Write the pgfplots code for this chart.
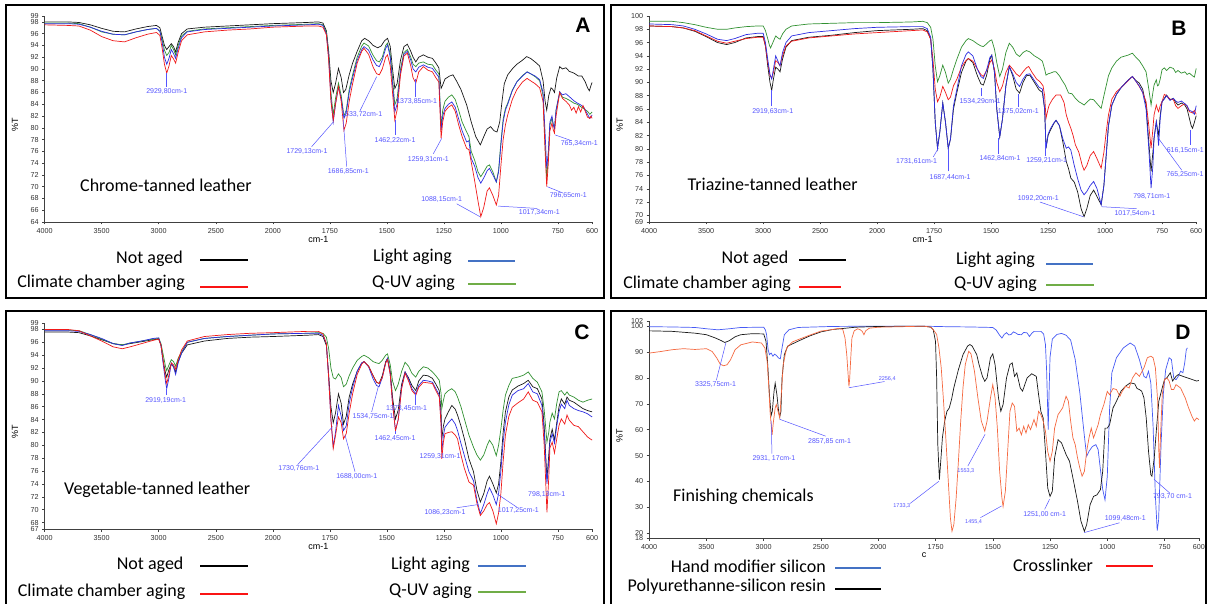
\documentclass[border=0pt]{standalone}
\usepackage{pgfplots}
\pgfplotsset{compat=1.18}
\usepackage{fontspec}
\setmainfont{Liberation Sans}
\newfontfamily\calibri{Carlito}
\definecolor{cblk}{RGB}{25,25,25}
\definecolor{cblu}{RGB}{45,45,225}
\definecolor{cred}{RGB}{240,25,25}
\definecolor{cgrn}{RGB}{50,145,50}
\definecolor{dblu}{RGB}{70,90,245}
\definecolor{dorg}{RGB}{245,105,65}
\definecolor{annc}{RGB}{85,85,255}
\definecolor{lblu}{RGB}{68,114,196}
\definecolor{lgrn}{RGB}{112,173,71}
\definecolor{lred}{RGB}{250,20,20}
\pgfplotsset{
  /pgfplots/table/ftx/.style={x expr={4000-\thisrow{w}+max(0,2000-\thisrow{w})}, y=t, row sep=\\},
  ftir/.style={
    scale only axis, anchor=south west, clip=false,
    axis lines*=left, axis line style={black!75, line width=0.6pt},
    tick align=outside, major tick length=2.5pt, tick style={black!75, line width=0.5pt},
    xmin=0, xmax=4800,
    xtick={0,500,1000,1500,2000,2500,3000,3500,4000,4500,4800},
    xticklabels={4000,3500,3000,2500,2000,1750,1500,1250,1000,750,600},
    ticklabel style={font=\fontsize{7.2}{8}\selectfont, text=black!80},
    /pgf/number format/assume math mode=true,
    xlabel style={font=\fontsize{9}{10}\selectfont, at={(axis description cs:0.5,0)}, anchor=center, yshift=-17pt},
    ylabel style={font=\fontsize{9}{10}\selectfont, at={(axis description cs:-0.054,0.47)}, anchor=center},
    ylabel={\%T},
    every axis plot/.append style={line width=0.7pt},
  }
}
\tikzset{
  an/.style={font=\fontsize{7}{8}\selectfont, text=annc, inner sep=0pt},
  ans/.style={font=\fontsize{5.5}{6}\selectfont, text=annc, inner sep=0pt},
  al/.style={draw=annc, line width=0.5pt},
  leg/.style={font=\calibri\fontsize{18}{20}\selectfont, anchor=east, inner sep=0pt},
  lab/.style={font=\calibri\fontsize{18}{20}\selectfont, anchor=west, inner sep=0pt},
  let/.style={font=\fontsize{21}{24}\selectfont\bfseries, inner sep=0pt},
}
\begin{document}
\begin{tikzpicture}
\useasboundingbox (0,0) rectangle (1207pt,603pt);
\fill[white] (0,0) rectangle (1207pt,603pt);
% frames
\draw[line width=1.4pt] (6pt,598pt) rectangle (604pt,305pt);
\draw[line width=1.4pt] (611pt,598pt) rectangle (1206pt,305pt);
\draw[line width=1.4pt] (6pt,292pt) rectangle (604pt,-8pt);
\draw[line width=1.4pt] (611pt,292pt) rectangle (1206pt,-8pt);

% ================= A =================
\begin{axis}[ftir, at={(44.7pt,381pt)}, width=547.4pt, height=206pt,
  ymin=64, ymax=99, ytick={64,66,...,98,99}, xlabel={cm-1}]
\addplot[cblk] table[ftx]{w t\\ 4000 98.0\\ 3800 98.0\\ 3700 97.9\\ 3600 97.5\\ 3500 96.9\\ 3400 96.4\\ 3300 96.3\\ 3200 96.8\\ 3100 97.2\\ 3020 97.4\\ 2990 97.0\\ 2970 95.5\\ 2950 94.0\\ 2930 93.3\\ 2910 93.8\\ 2890 94.3\\ 2870 93.8\\ 2852 92.9\\ 2830 94.5\\ 2800 96.0\\ 2750 96.8\\ 2600 97.1\\ 2400 97.3\\ 2200 97.5\\ 2000 97.7\\ 1850 97.9\\ 1800 98.0\\ 1780 97.8\\ 1765 96.5\\ 1755 93.0\\ 1745 88.0\\ 1735 86.0\\ 1725 87.5\\ 1712 90.1\\ 1700 88.5\\ 1690 86.0\\ 1680 86.5\\ 1665 89.0\\ 1650 91.0\\ 1630 93.0\\ 1610 94.8\\ 1597 95.2\\ 1580 94.8\\ 1560 94.0\\ 1540 93.6\\ 1525 93.9\\ 1510 94.8\\ 1497 95.2\\ 1485 93.8\\ 1475 90.0\\ 1465 86.7\\ 1455 87.5\\ 1440 91.5\\ 1425 93.8\\ 1410 94.2\\ 1395 93.0\\ 1385 92.0\\ 1373 91.2\\ 1360 92.0\\ 1340 92.4\\ 1320 92.0\\ 1300 91.8\\ 1285 91.0\\ 1272 90.2\\ 1262 86.7\\ 1255 87.3\\ 1245 88.3\\ 1225 88.8\\ 1210 89.0\\ 1195 88.0\\ 1175 86.5\\ 1150 83.9\\ 1130 81.0\\ 1110 78.5\\ 1090 77.1\\ 1075 78.5\\ 1060 79.8\\ 1045 80.2\\ 1030 79.5\\ 1017 79.3\\ 1005 81.0\\ 995 84.5\\ 985 87.5\\ 970 89.0\\ 950 90.0\\ 930 90.8\\ 905 91.5\\ 887 92.1\\ 870 91.8\\ 850 91.2\\ 830 90.5\\ 815 88.0\\ 806 84.5\\ 799 83.0\\ 790 85.5\\ 780 86.8\\ 772 86.5\\ 765 86.0\\ 755 88.5\\ 742 90.4\\ 730 90.0\\ 715 90.2\\ 700 89.6\\ 680 89.3\\ 660 88.8\\ 645 88.8\\ 630 87.8\\ 620 86.8\\ 612 86.3\\ 605 87.2\\ 600 87.7\\};
\addplot[cgrn] table[ftx]{w t\\ 4000 97.8\\ 3800 97.8\\ 3700 97.7\\ 3600 97.1\\ 3500 96.3\\ 3400 95.9\\ 3300 95.8\\ 3200 96.3\\ 3100 96.7\\ 3020 96.9\\ 2990 96.4\\ 2970 95.0\\ 2950 93.2\\ 2930 92.3\\ 2910 92.8\\ 2890 94.0\\ 2870 93.3\\ 2852 92.4\\ 2830 94.0\\ 2800 95.6\\ 2750 96.4\\ 2600 96.8\\ 2400 97.0\\ 2200 97.2\\ 2000 97.4\\ 1850 97.6\\ 1800 97.7\\ 1780 97.5\\ 1765 96.3\\ 1755 92.5\\ 1745 86.0\\ 1735 82.2\\ 1725 85.0\\ 1712 87.6\\ 1700 85.5\\ 1688 82.0\\ 1678 83.0\\ 1665 86.5\\ 1650 89.0\\ 1630 92.0\\ 1610 93.9\\ 1600 94.4\\ 1580 93.9\\ 1560 92.3\\ 1545 91.4\\ 1533 91.2\\ 1520 92.0\\ 1505 94.0\\ 1497 94.4\\ 1485 92.5\\ 1475 88.5\\ 1465 83.9\\ 1455 85.0\\ 1440 90.0\\ 1425 92.8\\ 1410 93.3\\ 1395 92.0\\ 1385 90.8\\ 1373 90.4\\ 1360 91.0\\ 1340 91.2\\ 1320 90.8\\ 1300 90.7\\ 1285 89.8\\ 1272 89.2\\ 1262 80.2\\ 1255 83.0\\ 1245 84.5\\ 1230 85.2\\ 1215 85.6\\ 1200 84.8\\ 1185 83.0\\ 1170 81.0\\ 1150 79.3\\ 1140 78.5\\ 1130 76.0\\ 1115 74.5\\ 1100 72.5\\ 1088 71.7\\ 1075 72.5\\ 1060 73.5\\ 1050 73.7\\ 1035 72.5\\ 1020 70.8\\ 1010 72.8\\ 1000 77.5\\ 990 81.5\\ 980 83.3\\ 970 84.2\\ 950 86.4\\ 930 87.8\\ 905 88.9\\ 885 89.5\\ 870 89.2\\ 850 88.7\\ 830 88.0\\ 815 85.5\\ 806 77.0\\ 799 71.4\\ 792 75.0\\ 785 80.5\\ 776 81.6\\ 770 80.5\\ 765 79.9\\ 758 83.0\\ 742 86.1\\ 730 85.2\\ 715 85.0\\ 700 84.7\\ 680 84.2\\ 665 84.0\\ 650 83.6\\ 635 83.2\\ 620 82.8\\ 610 82.3\\ 605 82.5\\ 600 82.7\\};
\addplot[cblu] table[ftx]{w t\\ 4000 97.7\\ 3800 97.7\\ 3700 97.6\\ 3600 97.1\\ 3500 96.4\\ 3400 95.9\\ 3300 95.8\\ 3200 96.3\\ 3100 96.7\\ 3020 96.9\\ 2990 96.4\\ 2970 94.5\\ 2950 92.0\\ 2930 90.8\\ 2910 91.8\\ 2890 93.3\\ 2870 92.6\\ 2852 91.8\\ 2830 93.5\\ 2800 95.3\\ 2750 96.3\\ 2600 96.7\\ 2400 96.9\\ 2200 97.1\\ 2000 97.3\\ 1850 97.5\\ 1800 97.6\\ 1780 97.4\\ 1765 96.0\\ 1755 92.0\\ 1745 85.0\\ 1735 81.0\\ 1725 84.0\\ 1712 87.0\\ 1700 85.0\\ 1688 81.6\\ 1678 82.5\\ 1665 86.0\\ 1650 88.5\\ 1630 91.5\\ 1610 93.3\\ 1600 93.8\\ 1580 93.2\\ 1560 91.5\\ 1545 90.6\\ 1533 90.4\\ 1520 91.5\\ 1505 93.5\\ 1497 94.1\\ 1485 92.0\\ 1475 87.5\\ 1465 82.7\\ 1455 84.0\\ 1440 89.5\\ 1425 92.5\\ 1410 93.0\\ 1395 91.5\\ 1385 90.0\\ 1373 89.5\\ 1360 90.3\\ 1340 90.7\\ 1320 90.3\\ 1300 90.1\\ 1285 89.3\\ 1272 88.6\\ 1262 79.6\\ 1255 82.0\\ 1245 83.3\\ 1230 84.0\\ 1215 84.4\\ 1200 83.5\\ 1185 81.5\\ 1170 79.5\\ 1150 77.6\\ 1140 77.8\\ 1130 74.8\\ 1115 73.5\\ 1100 71.5\\ 1088 70.6\\ 1075 71.5\\ 1060 72.7\\ 1050 73.1\\ 1035 72.0\\ 1020 70.8\\ 1010 72.5\\ 1000 77.0\\ 990 81.0\\ 980 83.0\\ 970 84.0\\ 950 86.3\\ 930 87.8\\ 905 88.8\\ 885 89.5\\ 870 89.2\\ 850 88.8\\ 830 88.2\\ 815 86.0\\ 806 79.0\\ 799 73.1\\ 792 76.0\\ 785 81.0\\ 776 82.0\\ 770 80.5\\ 765 79.9\\ 758 83.0\\ 742 86.1\\ 730 85.6\\ 715 85.8\\ 700 85.3\\ 680 84.6\\ 665 84.2\\ 650 83.9\\ 635 83.4\\ 620 82.3\\ 610 81.6\\ 605 81.8\\ 600 82.2\\};
\addplot[cred] table[ftx]{w t\\ 4000 97.5\\ 3800 97.4\\ 3700 97.3\\ 3600 96.6\\ 3500 95.5\\ 3400 94.8\\ 3300 94.6\\ 3200 95.3\\ 3100 95.9\\ 3020 96.2\\ 2990 95.7\\ 2970 93.5\\ 2950 90.8\\ 2930 89.3\\ 2910 90.5\\ 2890 92.3\\ 2870 91.7\\ 2852 91.0\\ 2830 92.8\\ 2800 94.8\\ 2750 95.8\\ 2600 96.3\\ 2400 96.6\\ 2200 96.8\\ 2000 97.1\\ 1850 97.3\\ 1800 97.3\\ 1780 97.1\\ 1765 95.8\\ 1755 91.5\\ 1745 84.5\\ 1735 81.3\\ 1725 84.0\\ 1712 87.0\\ 1700 84.5\\ 1688 79.6\\ 1678 80.8\\ 1665 84.5\\ 1650 87.5\\ 1630 91.0\\ 1610 93.0\\ 1600 93.5\\ 1580 92.5\\ 1560 90.3\\ 1545 89.2\\ 1533 89.0\\ 1520 90.0\\ 1505 92.0\\ 1497 92.4\\ 1485 90.5\\ 1475 86.0\\ 1465 81.3\\ 1455 83.0\\ 1440 89.0\\ 1425 92.2\\ 1410 92.7\\ 1395 90.5\\ 1385 88.5\\ 1373 87.6\\ 1360 89.5\\ 1340 90.4\\ 1320 89.8\\ 1300 89.5\\ 1285 88.5\\ 1272 87.8\\ 1262 78.2\\ 1255 81.0\\ 1245 82.8\\ 1230 83.5\\ 1215 83.9\\ 1200 82.8\\ 1185 80.5\\ 1170 78.5\\ 1150 76.5\\ 1140 76.3\\ 1130 74.2\\ 1115 71.0\\ 1100 67.5\\ 1088 64.9\\ 1075 66.5\\ 1060 69.3\\ 1050 69.8\\ 1035 68.5\\ 1020 66.9\\ 1010 68.5\\ 1000 73.5\\ 990 78.0\\ 980 80.5\\ 970 82.2\\ 950 84.8\\ 930 86.5\\ 905 87.8\\ 885 88.4\\ 870 88.0\\ 850 87.5\\ 830 86.8\\ 815 84.5\\ 806 76.0\\ 799 70.0\\ 792 74.0\\ 785 79.5\\ 776 80.8\\ 770 79.6\\ 765 79.1\\ 758 82.0\\ 742 86.0\\ 730 85.0\\ 715 84.5\\ 700 83.9\\ 690 83.0\\ 680 83.5\\ 670 82.5\\ 660 83.6\\ 650 82.7\\ 640 83.8\\ 630 82.8\\ 620 81.8\\ 610 81.6\\ 605 82.0\\ 600 81.6\\};
\node[an] at (axis cs:1070,86.2) {2929,80cm-1}; \draw[al] (axis cs:1070,87.0)--(axis cs:1070,89.4);
\node[an] at (axis cs:2300,76.0) {1729,13cm-1}; \draw[al] (axis cs:2341,76.8)--(axis cs:2531,81.0);
\node[an] at (axis cs:2662,72.5) {1686,85cm-1}; \draw[al] (axis cs:2648,73.4)--(axis cs:2618,81.3);
\node[an] at (axis cs:2780,82.2) {1533,72cm-1}; \draw[al] (axis cs:2765,82.9)--(axis cs:2911,88.7);
\node[an] at (axis cs:3072,77.9) {1462,22cm-1}; \draw[al] (axis cs:3072,78.8)--(axis cs:3072,81.3);
\node[an] at (axis cs:3262,84.4) {1373,85cm-1}; \draw[al] (axis cs:3247,85.2)--(axis cs:3247,88.3);
\node[an] at (axis cs:3364,74.7) {1259,31cm-1}; \draw[al] (axis cs:3408,75.6)--(axis cs:3481,78.2);
\node[an] at (axis cs:3481,67.9) {1088,15cm-1}; \draw[al] (axis cs:3612,67.1)--(axis cs:3817,64.9);
\node[an] at (axis cs:4337,65.6) {1017,34cm-1}; \draw[al] (axis cs:3977,66.7)--(axis cs:4321,66.3);
\node[an] at (axis cs:4591,68.5) {796,65cm-1}; \draw[al] (axis cs:4407,70.0)--(axis cs:4547,68.9);
\node[an] at (axis cs:4688,77.4) {765,34cm-1}; \draw[al] (axis cs:4475,78.8)--(axis cs:4621,77.8);
\end{axis}
\node[let] at (583pt,578pt) {A};
\node[lab] at (80pt,418pt) {Chrome-tanned leather};
\node[leg] at (183pt,344pt) {Not aged};
\node[leg] at (185pt,320pt) {Climate chamber aging};
\node[leg] at (452pt,346pt) {Light aging};
\node[leg] at (455pt,320pt) {Q-UV aging};
\draw[black, line width=2.8pt] (200pt,343pt)--(248pt,343pt);
\draw[lred, line width=2.8pt] (200pt,316pt)--(248pt,316pt);
\draw[lblu, line width=2.8pt] (468pt,342pt)--(515pt,342pt);
\draw[lgrn, line width=2.8pt] (468pt,319pt)--(516pt,319pt);

% ================= B =================
\begin{axis}[ftir, at={(649.2pt,381pt)}, width=547pt, height=206pt,
  ymin=69, ymax=100, ytick={69,70,72,...,100}, xlabel={cm-1}]
\addplot[cblk] table[ftx]{w t\\ 4000 98.5\\ 3800 98.4\\ 3700 98.2\\ 3600 97.7\\ 3500 96.9\\ 3400 96.0\\ 3320 95.7\\ 3250 96.0\\ 3150 96.7\\ 3050 96.9\\ 3000 96.9\\ 2980 95.5\\ 2960 92.5\\ 2940 90.0\\ 2925 88.8\\ 2910 90.5\\ 2890 92.3\\ 2870 92.0\\ 2852 91.6\\ 2830 93.5\\ 2800 95.3\\ 2750 96.3\\ 2600 96.8\\ 2400 97.1\\ 2200 97.5\\ 2000 97.8\\ 1850 98.0\\ 1800 98.1\\ 1780 97.8\\ 1765 96.5\\ 1755 92.0\\ 1745 84.0\\ 1735 80.1\\ 1725 82.5\\ 1712 86.9\\ 1700 84.0\\ 1688 80.1\\ 1678 81.5\\ 1665 86.0\\ 1650 88.5\\ 1630 91.5\\ 1610 93.2\\ 1600 93.6\\ 1580 93.0\\ 1560 91.0\\ 1545 89.8\\ 1534 89.6\\ 1520 91.0\\ 1505 93.5\\ 1497 94.1\\ 1485 91.5\\ 1475 86.0\\ 1462 81.8\\ 1450 84.5\\ 1435 89.5\\ 1420 92.4\\ 1405 91.0\\ 1390 89.0\\ 1375 88.4\\ 1360 90.0\\ 1345 91.0\\ 1330 91.1\\ 1310 90.0\\ 1290 88.9\\ 1275 88.5\\ 1265 86.0\\ 1259 80.1\\ 1250 82.0\\ 1240 82.8\\ 1225 83.8\\ 1215 84.3\\ 1200 83.5\\ 1185 81.0\\ 1170 78.1\\ 1160 77.0\\ 1150 75.6\\ 1135 75.0\\ 1120 73.5\\ 1105 71.0\\ 1092 69.8\\ 1080 71.0\\ 1065 73.0\\ 1050 73.8\\ 1035 72.8\\ 1017 71.6\\ 1005 74.5\\ 995 79.0\\ 985 83.5\\ 970 86.6\\ 950 88.2\\ 930 89.2\\ 900 90.3\\ 880 90.9\\ 865 90.3\\ 850 89.9\\ 835 89.0\\ 820 86.6\\ 808 81.0\\ 798 76.6\\ 790 79.5\\ 785 81.6\\ 775 84.1\\ 770 83.0\\ 765 82.1\\ 758 85.0\\ 750 87.1\\ 740 87.6\\ 730 88.1\\ 715 87.4\\ 700 87.6\\ 690 87.0\\ 680 86.6\\ 665 86.9\\ 650 86.6\\ 640 86.0\\ 630 84.6\\ 622 83.5\\ 616 83.1\\ 608 84.0\\ 600 85.0\\};
\addplot[cgrn] table[ftx]{w t\\ 4000 99.2\\ 3800 99.2\\ 3700 99.0\\ 3600 98.7\\ 3500 98.3\\ 3400 98.0\\ 3320 98.0\\ 3250 98.2\\ 3150 98.4\\ 3050 98.5\\ 3000 98.5\\ 2980 97.8\\ 2960 96.6\\ 2945 95.6\\ 2935 95.2\\ 2915 96.0\\ 2890 97.0\\ 2870 96.7\\ 2852 96.5\\ 2830 97.3\\ 2800 98.0\\ 2750 98.5\\ 2600 98.8\\ 2400 98.9\\ 2200 99.0\\ 2000 99.0\\ 1850 99.1\\ 1800 99.2\\ 1780 99.0\\ 1765 98.3\\ 1755 96.5\\ 1745 92.5\\ 1735 90.1\\ 1725 91.0\\ 1712 92.6\\ 1700 91.5\\ 1688 89.9\\ 1678 90.5\\ 1665 92.0\\ 1650 93.5\\ 1630 95.3\\ 1610 96.3\\ 1600 96.6\\ 1580 96.3\\ 1560 95.8\\ 1545 95.5\\ 1534 95.4\\ 1520 95.8\\ 1505 96.3\\ 1497 96.4\\ 1485 95.0\\ 1475 93.0\\ 1462 90.9\\ 1450 92.0\\ 1435 94.5\\ 1420 95.9\\ 1405 95.3\\ 1390 94.3\\ 1375 93.9\\ 1360 94.5\\ 1345 94.8\\ 1330 94.6\\ 1310 94.0\\ 1290 93.6\\ 1275 93.2\\ 1265 92.0\\ 1259 91.1\\ 1250 91.3\\ 1240 91.4\\ 1225 91.6\\ 1215 91.6\\ 1200 91.0\\ 1190 90.4\\ 1175 89.6\\ 1160 88.4\\ 1145 88.3\\ 1130 87.6\\ 1115 87.1\\ 1100 86.8\\ 1092 86.6\\ 1080 87.0\\ 1065 87.5\\ 1050 87.4\\ 1035 86.8\\ 1017 86.1\\ 1005 88.0\\ 995 89.5\\ 985 91.0\\ 970 92.2\\ 950 93.2\\ 930 93.8\\ 900 94.1\\ 880 94.4\\ 865 93.8\\ 850 93.3\\ 835 92.5\\ 820 91.6\\ 808 89.0\\ 798 86.6\\ 790 88.5\\ 785 89.6\\ 775 90.4\\ 770 89.5\\ 765 89.6\\ 758 90.5\\ 750 91.9\\ 740 92.2\\ 730 91.8\\ 715 92.3\\ 700 92.1\\ 690 91.5\\ 680 91.8\\ 665 91.4\\ 650 91.6\\ 640 91.2\\ 630 91.4\\ 616 91.0\\ 608 90.8\\ 600 92.1\\};
\addplot[cred] table[ftx]{w t\\ 4000 98.5\\ 3800 98.4\\ 3700 98.2\\ 3600 97.8\\ 3500 97.0\\ 3400 96.2\\ 3320 95.9\\ 3250 96.2\\ 3150 96.6\\ 3050 96.8\\ 3000 96.8\\ 2980 95.5\\ 2960 93.0\\ 2940 91.0\\ 2925 90.7\\ 2910 91.5\\ 2890 93.3\\ 2870 93.0\\ 2852 92.5\\ 2830 94.0\\ 2800 95.5\\ 2750 96.2\\ 2600 96.7\\ 2400 97.0\\ 2200 97.3\\ 2000 97.5\\ 1850 97.8\\ 1800 97.9\\ 1780 97.6\\ 1765 96.5\\ 1755 93.5\\ 1745 89.0\\ 1735 87.1\\ 1725 87.8\\ 1712 89.4\\ 1700 88.5\\ 1688 87.4\\ 1678 87.8\\ 1665 89.5\\ 1650 90.5\\ 1630 92.3\\ 1610 93.3\\ 1600 93.6\\ 1580 93.2\\ 1560 92.0\\ 1545 91.2\\ 1534 90.9\\ 1520 91.8\\ 1505 93.0\\ 1497 93.4\\ 1485 92.0\\ 1475 90.0\\ 1462 88.6\\ 1450 89.5\\ 1435 91.5\\ 1420 92.6\\ 1405 92.0\\ 1390 91.3\\ 1375 90.9\\ 1360 91.6\\ 1345 92.2\\ 1335 92.4\\ 1320 91.5\\ 1300 90.5\\ 1285 90.1\\ 1272 89.5\\ 1265 88.0\\ 1259 84.6\\ 1250 86.0\\ 1245 86.6\\ 1230 87.5\\ 1215 88.1\\ 1195 88.1\\ 1180 87.0\\ 1170 85.1\\ 1160 84.0\\ 1150 83.1\\ 1140 82.0\\ 1130 80.6\\ 1115 79.5\\ 1100 77.5\\ 1092 76.8\\ 1080 77.5\\ 1065 79.0\\ 1050 79.6\\ 1035 78.5\\ 1017 77.1\\ 1005 79.5\\ 995 82.5\\ 985 85.1\\ 970 87.5\\ 950 88.6\\ 930 89.2\\ 900 90.2\\ 880 90.9\\ 865 90.2\\ 850 89.4\\ 835 88.5\\ 820 87.1\\ 808 83.5\\ 798 80.1\\ 790 83.0\\ 785 85.1\\ 775 86.6\\ 770 86.0\\ 765 85.6\\ 758 86.5\\ 750 87.1\\ 740 88.2\\ 730 88.0\\ 715 87.5\\ 700 87.4\\ 690 86.5\\ 680 86.1\\ 665 86.5\\ 650 86.8\\ 640 86.4\\ 630 85.6\\ 616 85.4\\ 608 85.8\\ 600 85.2\\};
\addplot[cblu] table[ftx]{w t\\ 4000 98.8\\ 3800 98.7\\ 3700 98.5\\ 3600 98.0\\ 3500 97.3\\ 3400 96.5\\ 3320 96.3\\ 3250 96.6\\ 3150 97.2\\ 3050 97.4\\ 3000 97.4\\ 2980 96.0\\ 2960 93.5\\ 2940 91.2\\ 2925 90.5\\ 2910 92.0\\ 2890 94.0\\ 2870 93.2\\ 2852 92.5\\ 2830 94.5\\ 2800 96.0\\ 2750 97.0\\ 2600 97.5\\ 2400 97.8\\ 2200 98.1\\ 2000 98.3\\ 1850 98.4\\ 1800 98.4\\ 1780 98.1\\ 1765 96.8\\ 1755 92.0\\ 1745 84.0\\ 1735 80.1\\ 1725 82.5\\ 1712 86.9\\ 1700 84.0\\ 1688 80.1\\ 1678 81.5\\ 1665 86.5\\ 1650 89.0\\ 1630 92.5\\ 1610 94.2\\ 1600 94.6\\ 1580 94.0\\ 1560 92.0\\ 1545 90.9\\ 1534 90.6\\ 1520 91.8\\ 1505 93.8\\ 1497 94.1\\ 1485 91.5\\ 1475 86.0\\ 1462 81.8\\ 1450 84.5\\ 1435 89.5\\ 1420 92.4\\ 1405 91.3\\ 1390 90.0\\ 1375 89.4\\ 1360 90.5\\ 1345 91.2\\ 1330 91.3\\ 1310 90.3\\ 1290 89.3\\ 1275 89.0\\ 1265 86.0\\ 1259 80.1\\ 1250 82.2\\ 1240 83.0\\ 1225 83.9\\ 1215 84.3\\ 1200 83.5\\ 1185 81.5\\ 1170 80.1\\ 1160 80.3\\ 1150 79.8\\ 1135 77.5\\ 1120 75.5\\ 1105 73.8\\ 1092 73.1\\ 1080 73.6\\ 1065 74.5\\ 1050 75.1\\ 1035 74.0\\ 1017 71.6\\ 1005 74.5\\ 995 79.0\\ 985 83.5\\ 970 86.6\\ 950 88.2\\ 930 89.2\\ 900 90.3\\ 880 90.9\\ 865 90.2\\ 850 89.5\\ 835 88.5\\ 820 86.0\\ 808 80.0\\ 798 74.1\\ 790 77.5\\ 785 81.6\\ 775 84.1\\ 770 82.5\\ 765 80.5\\ 758 84.5\\ 750 87.1\\ 740 87.5\\ 730 88.0\\ 715 87.3\\ 700 87.6\\ 690 87.2\\ 680 87.0\\ 665 87.2\\ 650 86.8\\ 640 86.5\\ 630 85.8\\ 616 85.6\\ 608 85.2\\ 600 86.5\\};
\node[an] at (axis cs:1084,85.6) {2919,63cm-1}; \draw[al] (axis cs:1075,86.4)--(axis cs:1075,88.9);
\node[an] at (axis cs:2347,78.1) {1731,61cm-1}; \draw[al] (axis cs:2493,78.8)--(axis cs:2537,80.1);
\node[an] at (axis cs:2640,75.7) {1687,44cm-1}; \draw[al] (axis cs:2625,76.6)--(axis cs:2625,80.0);
\node[an] at (axis cs:2903,87.1) {1534,29cm-1}; \draw[al] (axis cs:2918,87.9)--(axis cs:2918,89.1);
\node[an] at (axis cs:3078,78.6) {1462,84cm-1}; \draw[al] (axis cs:3063,79.3)--(axis cs:3063,81.6);
\node[an] at (axis cs:3239,85.6) {1375,02cm-1}; \draw[al] (axis cs:3239,86.3)--(axis cs:3239,88.3);
\node[an] at (axis cs:3488,78.3) {1259,21cm-1}; \draw[al] (axis cs:3473,79.0)--(axis cs:3473,81.1);
\node[an] at (axis cs:3414,72.6) {1092,20cm-1}; \draw[al] (axis cs:3429,72.0)--(axis cs:3809,69.8);
\node[an] at (axis cs:4263,70.3) {1017,54cm-1}; \draw[al] (axis cs:3971,71.3)--(axis cs:4278,71.0);
\node[an] at (axis cs:4410,72.8) {798,71cm-1};
\node[an] at (axis cs:4702,76.1) {765,25cm-1}; \draw[al] (axis cs:4673,76.8)--(axis cs:4468,81.6);
\node[an, anchor=east] at (axis cs:4868,79.8) {616,15cm-1}; \draw[al] (axis cs:4751,80.6)--(axis cs:4751,82.8);
\end{axis}
\node[let] at (1179pt,575pt) {B};
\node[lab] at (687.5pt,419pt) {Triazine-tanned leather};
\node[leg] at (788.5pt,344pt) {Not aged};
\node[leg] at (791pt,319pt) {Climate chamber aging};
\node[leg] at (1035pt,343pt) {Light aging};
\node[leg] at (1037pt,319pt) {Q-UV aging};
\draw[black, line width=2.8pt] (799pt,343pt)--(846pt,343pt);
\draw[lred, line width=2.8pt] (799pt,316pt)--(841pt,316pt);
\draw[lblu, line width=2.8pt] (1046pt,339pt)--(1093pt,339pt);
\draw[lgrn, line width=2.8pt] (1046pt,318pt)--(1094pt,318pt);

% ================= C =================
\begin{axis}[ftir, at={(44.7pt,74pt)}, width=547.4pt, height=206pt,
  ymin=67, ymax=99, ytick={67,68,70,...,98,99}, xlabel={cm-1}]
\addplot[cblk] table[ftx]{w t\\ 4000 97.6\\ 3800 97.6\\ 3700 97.5\\ 3600 97.0\\ 3500 96.4\\ 3400 95.8\\ 3320 95.6\\ 3250 95.8\\ 3150 96.1\\ 3050 96.4\\ 3000 96.5\\ 2980 95.5\\ 2960 93.0\\ 2940 91.2\\ 2930 90.6\\ 2910 91.8\\ 2890 92.6\\ 2870 92.2\\ 2852 91.3\\ 2830 93.0\\ 2800 94.3\\ 2750 95.6\\ 2600 96.2\\ 2400 96.6\\ 2200 96.8\\ 2000 96.9\\ 1850 97.1\\ 1800 97.2\\ 1780 96.9\\ 1765 95.5\\ 1755 91.0\\ 1745 86.0\\ 1735 83.5\\ 1725 85.0\\ 1712 88.0\\ 1700 86.5\\ 1690 83.3\\ 1678 84.5\\ 1665 87.5\\ 1650 89.5\\ 1630 91.5\\ 1610 92.8\\ 1600 93.0\\ 1580 92.3\\ 1560 90.8\\ 1545 89.8\\ 1534 89.6\\ 1520 90.8\\ 1505 93.0\\ 1497 93.5\\ 1485 91.5\\ 1475 87.5\\ 1462 84.1\\ 1450 85.5\\ 1435 89.5\\ 1420 91.4\\ 1405 90.5\\ 1390 89.3\\ 1373 88.5\\ 1360 90.0\\ 1340 90.9\\ 1320 90.8\\ 1300 90.4\\ 1285 89.5\\ 1270 88.5\\ 1262 85.0\\ 1259 81.0\\ 1252 83.0\\ 1245 84.1\\ 1230 85.2\\ 1215 86.2\\ 1200 85.6\\ 1190 84.7\\ 1175 83.0\\ 1160 81.0\\ 1140 77.9\\ 1120 75.9\\ 1105 73.0\\ 1090 71.2\\ 1075 72.5\\ 1060 74.5\\ 1050 75.2\\ 1035 74.0\\ 1020 72.6\\ 1010 74.0\\ 1000 77.4\\ 990 82.0\\ 980 85.2\\ 965 87.5\\ 950 88.6\\ 925 89.2\\ 900 89.6\\ 880 90.1\\ 860 89.1\\ 840 88.8\\ 820 87.2\\ 810 83.0\\ 798 74.8\\ 790 78.5\\ 785 81.0\\ 775 82.5\\ 765 80.8\\ 755 83.5\\ 745 86.0\\ 735 87.2\\ 720 86.4\\ 710 87.5\\ 700 87.0\\ 680 86.7\\ 660 86.2\\ 640 85.7\\ 620 85.4\\ 600 85.2\\};
\addplot[cgrn] table[ftx]{w t\\ 4000 97.9\\ 3800 97.9\\ 3700 97.8\\ 3600 97.2\\ 3500 96.5\\ 3400 95.8\\ 3320 95.6\\ 3250 95.9\\ 3150 96.2\\ 3050 96.5\\ 3000 96.6\\ 2980 95.8\\ 2960 94.0\\ 2940 92.2\\ 2930 91.6\\ 2910 92.5\\ 2890 93.3\\ 2870 93.0\\ 2852 92.3\\ 2830 93.5\\ 2800 94.5\\ 2750 96.0\\ 2600 96.6\\ 2400 96.9\\ 2200 97.1\\ 2000 97.3\\ 1850 97.4\\ 1800 97.5\\ 1780 97.4\\ 1765 96.8\\ 1755 95.0\\ 1745 92.0\\ 1735 90.5\\ 1725 90.3\\ 1712 91.1\\ 1700 90.5\\ 1690 89.1\\ 1678 89.5\\ 1665 90.8\\ 1650 92.0\\ 1630 93.2\\ 1610 93.8\\ 1600 94.0\\ 1580 93.6\\ 1560 93.0\\ 1545 92.8\\ 1534 92.7\\ 1520 93.2\\ 1505 94.0\\ 1497 94.2\\ 1485 92.5\\ 1475 90.0\\ 1462 88.5\\ 1450 89.5\\ 1435 91.5\\ 1420 92.9\\ 1405 92.3\\ 1390 91.2\\ 1373 90.6\\ 1360 91.5\\ 1340 92.2\\ 1320 92.0\\ 1300 91.4\\ 1285 90.8\\ 1270 90.1\\ 1262 88.0\\ 1259 85.7\\ 1252 87.0\\ 1245 88.0\\ 1230 88.5\\ 1215 88.8\\ 1200 88.3\\ 1190 87.5\\ 1175 86.0\\ 1160 84.1\\ 1140 81.6\\ 1120 79.7\\ 1105 78.5\\ 1090 77.7\\ 1075 78.5\\ 1060 80.0\\ 1050 80.8\\ 1035 80.0\\ 1020 78.4\\ 1010 80.0\\ 1000 82.5\\ 990 85.5\\ 980 87.8\\ 965 89.3\\ 950 90.4\\ 925 90.6\\ 900 90.9\\ 880 91.4\\ 860 90.4\\ 840 89.8\\ 820 88.3\\ 810 85.5\\ 798 80.5\\ 790 82.0\\ 785 83.6\\ 775 85.0\\ 765 84.1\\ 755 86.5\\ 745 88.3\\ 735 88.5\\ 720 87.8\\ 710 88.3\\ 700 87.8\\ 680 87.5\\ 660 87.0\\ 640 86.7\\ 620 87.0\\ 600 87.2\\};
\addplot[cblu] table[ftx]{w t\\ 4000 97.8\\ 3800 97.8\\ 3700 97.7\\ 3600 97.2\\ 3500 96.6\\ 3400 95.8\\ 3320 95.5\\ 3250 95.9\\ 3150 96.2\\ 3050 96.6\\ 3000 96.7\\ 2980 95.5\\ 2960 92.5\\ 2940 89.8\\ 2930 88.8\\ 2910 90.5\\ 2890 92.8\\ 2870 92.2\\ 2852 91.0\\ 2830 92.8\\ 2800 94.3\\ 2750 96.0\\ 2600 96.6\\ 2400 96.9\\ 2200 97.1\\ 2000 97.3\\ 1850 97.4\\ 1800 97.4\\ 1780 97.1\\ 1765 95.8\\ 1755 90.5\\ 1745 84.0\\ 1735 79.8\\ 1725 82.0\\ 1712 86.2\\ 1700 84.5\\ 1690 82.3\\ 1678 83.0\\ 1665 86.5\\ 1650 89.0\\ 1630 91.5\\ 1610 92.8\\ 1600 93.0\\ 1580 92.2\\ 1560 90.3\\ 1545 89.3\\ 1534 89.1\\ 1520 90.5\\ 1505 92.8\\ 1497 93.5\\ 1485 91.0\\ 1475 86.5\\ 1462 82.3\\ 1450 84.0\\ 1435 89.0\\ 1420 91.4\\ 1405 90.3\\ 1390 88.8\\ 1373 88.0\\ 1360 89.3\\ 1340 90.1\\ 1320 90.0\\ 1300 89.8\\ 1285 88.8\\ 1270 87.8\\ 1262 83.5\\ 1259 79.0\\ 1252 81.5\\ 1245 82.8\\ 1230 83.5\\ 1215 84.1\\ 1200 83.3\\ 1190 82.3\\ 1175 80.3\\ 1160 78.4\\ 1140 75.9\\ 1120 74.5\\ 1105 71.5\\ 1090 69.4\\ 1075 70.8\\ 1060 72.5\\ 1050 73.4\\ 1035 72.3\\ 1020 70.8\\ 1010 72.5\\ 1000 76.0\\ 990 80.5\\ 980 83.6\\ 965 86.3\\ 950 87.8\\ 925 88.5\\ 900 88.8\\ 880 89.6\\ 860 88.3\\ 840 88.0\\ 820 86.2\\ 810 82.0\\ 798 74.0\\ 790 77.5\\ 785 80.4\\ 775 81.8\\ 765 80.3\\ 755 83.0\\ 745 85.2\\ 735 86.4\\ 720 85.7\\ 710 87.0\\ 700 86.2\\ 680 85.7\\ 660 85.4\\ 640 85.2\\ 620 84.9\\ 600 84.4\\};
\addplot[cred] table[ftx]{w t\\ 4000 98.0\\ 3800 98.0\\ 3700 97.8\\ 3600 97.0\\ 3500 96.2\\ 3400 95.3\\ 3320 95.0\\ 3250 95.3\\ 3150 95.8\\ 3050 96.3\\ 3000 96.5\\ 2980 95.5\\ 2960 93.0\\ 2940 90.5\\ 2930 89.6\\ 2910 91.0\\ 2890 92.8\\ 2870 92.5\\ 2852 91.8\\ 2830 93.3\\ 2800 94.8\\ 2750 96.2\\ 2600 96.9\\ 2400 97.2\\ 2200 97.4\\ 2000 97.5\\ 1850 97.7\\ 1800 97.7\\ 1780 97.3\\ 1765 95.8\\ 1755 90.5\\ 1745 84.0\\ 1735 79.5\\ 1725 81.5\\ 1712 84.4\\ 1700 83.5\\ 1690 81.0\\ 1678 81.8\\ 1665 85.0\\ 1650 88.0\\ 1630 91.0\\ 1610 92.6\\ 1600 93.0\\ 1580 92.3\\ 1560 90.8\\ 1545 89.8\\ 1534 89.6\\ 1520 90.5\\ 1505 92.8\\ 1497 93.3\\ 1485 91.0\\ 1475 86.5\\ 1462 82.3\\ 1450 84.0\\ 1435 88.8\\ 1420 91.2\\ 1405 90.0\\ 1390 88.5\\ 1373 87.8\\ 1360 89.0\\ 1340 89.8\\ 1320 89.7\\ 1300 89.6\\ 1285 88.5\\ 1270 87.5\\ 1262 83.0\\ 1259 77.9\\ 1252 80.5\\ 1245 81.8\\ 1230 82.0\\ 1215 82.1\\ 1200 81.6\\ 1190 81.0\\ 1175 78.5\\ 1160 76.4\\ 1140 74.3\\ 1120 73.8\\ 1105 71.0\\ 1090 69.1\\ 1075 69.8\\ 1060 70.8\\ 1050 71.1\\ 1035 69.8\\ 1020 67.8\\ 1010 69.5\\ 1000 72.5\\ 990 77.5\\ 980 81.6\\ 965 84.5\\ 950 85.9\\ 925 86.6\\ 900 87.2\\ 880 88.3\\ 860 87.0\\ 840 86.7\\ 820 85.2\\ 810 80.0\\ 798 69.6\\ 790 75.0\\ 785 79.6\\ 775 80.5\\ 765 78.8\\ 755 81.0\\ 745 83.1\\ 735 84.1\\ 720 83.3\\ 710 84.7\\ 700 83.9\\ 680 83.1\\ 660 82.9\\ 640 82.1\\ 620 81.3\\ 600 80.8\\};
\node[an] at (axis cs:1061,87.0) {2919,19cm-1}; \draw[al] (axis cs:1070,87.8)--(axis cs:1070,88.8);
\node[an] at (axis cs:2228,76.4) {1730,76cm-1}; \draw[al] (axis cs:2218,77.0)--(axis cs:2525,82.9);
\node[an] at (axis cs:2736,75.1) {1688,00cm-1}; \draw[al] (axis cs:2721,75.9)--(axis cs:2633,81.6);
\node[an] at (axis cs:2880,84.5) {1534,75cm-1}; \draw[al] (axis cs:2867,85.2)--(axis cs:2925,89.1);
\node[an] at (axis cs:3174,85.7) {1373,45cm-1}; \draw[al] (axis cs:3247,86.3)--(axis cs:3247,88.0);
\node[an] at (axis cs:3072,81.1) {1462,45cm-1}; \draw[al] (axis cs:3072,81.8)--(axis cs:3072,82.3);
\node[an] at (axis cs:3466,78.2) {1259,31cm-1};
\node[an] at (axis cs:3510,69.5) {1086,23cm-1}; \draw[al] (axis cs:3613,70.3)--(axis cs:3802,70.8);
\node[an] at (axis cs:4153,69.8) {1017,25cm-1}; \draw[al] (axis cs:3963,72.5)--(axis cs:4139,70.4);
\node[an] at (axis cs:4402,72.3) {798,13cm-1};
\end{axis}
\node[let] at (582pt,271pt) {C};
\node[lab] at (64pt,113pt) {Vegetable-tanned leather};
\node[leg] at (183.6pt,38pt) {Not aged};
\node[leg] at (185.6pt,11pt) {Climate chamber aging};
\node[leg] at (470pt,38pt) {Light aging};
\node[leg] at (472pt,12pt) {Q-UV aging};
\draw[black, line width=2.8pt] (200pt,37pt)--(248pt,37pt);
\draw[lred, line width=2.8pt] (200pt,9pt)--(248pt,9pt);
\draw[lblu, line width=2.8pt] (478pt,37pt)--(526pt,37pt);
\draw[lgrn, line width=2.8pt] (478pt,11pt)--(526pt,11pt);

% ================= D =================
\begin{axis}[ftir, at={(649.2pt,64.7pt)}, width=549.7pt, height=217.3pt,
  ymin=18, ymax=102, ytick={18,20,30,...,100,102}, xlabel={c}]
\addplot[dblu] table[ftx]{w t\\ 4000 99.8\\ 3800 99.7\\ 3600 99.5\\ 3500 99.0\\ 3400 98.6\\ 3300 99.0\\ 3200 99.5\\ 3000 99.6\\ 2985 98.5\\ 2975 96.7\\ 2962 91.0\\ 2950 89.0\\ 2935 89.6\\ 2920 88.4\\ 2905 89.2\\ 2890 88.7\\ 2870 87.7\\ 2855 87.4\\ 2840 91.6\\ 2820 96.7\\ 2780 98.6\\ 2700 99.5\\ 2400 99.9\\ 2000 100.0\\ 1800 100.0\\ 1700 99.8\\ 1600 99.7\\ 1500 99.5\\ 1485 98.5\\ 1470 96.5\\ 1460 95.4\\ 1450 96.8\\ 1440 97.5\\ 1430 96.6\\ 1420 96.8\\ 1410 97.8\\ 1400 97.4\\ 1390 96.8\\ 1375 96.7\\ 1365 97.6\\ 1350 97.4\\ 1340 96.0\\ 1330 97.2\\ 1320 98.0\\ 1290 98.0\\ 1278 97.0\\ 1270 92.9\\ 1265 83.0\\ 1262 73.5\\ 1258 60.0\\ 1254 75.0\\ 1250 88.0\\ 1240 95.0\\ 1220 96.8\\ 1200 97.2\\ 1180 96.5\\ 1160 94.6\\ 1140 87.1\\ 1120 74.3\\ 1100 57.5\\ 1090 49.7\\ 1080 51.6\\ 1065 53.5\\ 1050 54.2\\ 1040 52.3\\ 1030 44.6\\ 1020 36.9\\ 1010 32.8\\ 1000 42.0\\ 990 67.8\\ 980 82.0\\ 960 87.8\\ 930 91.6\\ 900 93.5\\ 880 92.3\\ 860 87.1\\ 840 80.6\\ 830 80.0\\ 820 82.6\\ 810 78.1\\ 800 61.3\\ 790 34.2\\ 782 21.0\\ 776 25.0\\ 765 54.9\\ 755 74.2\\ 745 83.2\\ 730 87.8\\ 720 87.1\\ 710 80.0\\ 700 79.3\\ 690 80.6\\ 680 82.6\\ 670 82.0\\ 662 85.8\\ 655 91.0\\ 650 91.6\\};
\addplot[cblk] table[ftx]{w t\\ 4000 98.2\\ 3800 98.0\\ 3600 97.3\\ 3500 96.7\\ 3420 95.4\\ 3370 94.4\\ 3340 93.7\\ 3300 94.4\\ 3250 95.9\\ 3200 96.7\\ 3100 97.1\\ 3000 97.0\\ 2980 94.1\\ 2965 85.1\\ 2950 73.5\\ 2935 65.5\\ 2925 67.1\\ 2910 74.8\\ 2900 78.0\\ 2885 73.5\\ 2870 67.1\\ 2860 65.0\\ 2850 67.0\\ 2840 80.0\\ 2820 89.0\\ 2790 92.3\\ 2700 94.2\\ 2600 96.2\\ 2500 97.8\\ 2400 98.7\\ 2200 99.6\\ 2000 99.9\\ 1800 100.0\\ 1770 99.6\\ 1760 98.7\\ 1750 94.1\\ 1745 80.0\\ 1740 54.2\\ 1733 40.7\\ 1725 50.4\\ 1720 56.8\\ 1710 63.3\\ 1700 67.1\\ 1690 68.4\\ 1680 71.7\\ 1670 76.2\\ 1650 83.2\\ 1630 89.0\\ 1610 92.3\\ 1600 92.9\\ 1590 92.3\\ 1570 89.0\\ 1560 85.2\\ 1545 80.6\\ 1535 78.7\\ 1525 80.0\\ 1510 87.8\\ 1500 89.3\\ 1490 85.2\\ 1475 72.3\\ 1465 67.1\\ 1455 69.7\\ 1440 80.0\\ 1425 85.2\\ 1415 85.8\\ 1405 80.6\\ 1395 81.9\\ 1380 76.1\\ 1370 74.9\\ 1350 80.0\\ 1330 81.6\\ 1310 80.6\\ 1300 73.5\\ 1290 67.1\\ 1280 64.5\\ 1270 51.6\\ 1260 37.4\\ 1250 34.2\\ 1240 36.2\\ 1230 49.1\\ 1215 56.1\\ 1200 54.9\\ 1180 50.4\\ 1165 47.8\\ 1150 41.3\\ 1130 32.3\\ 1115 24.6\\ 1100 20.7\\ 1090 23.3\\ 1075 31.0\\ 1060 34.2\\ 1045 34.8\\ 1030 36.8\\ 1020 43.9\\ 1010 60.6\\ 1000 60.6\\ 990 61.9\\ 975 68.4\\ 960 71.0\\ 940 74.9\\ 920 76.8\\ 900 78.1\\ 880 77.7\\ 870 75.9\\ 860 75.5\\ 850 74.9\\ 840 72.3\\ 830 64.5\\ 820 51.6\\ 810 42.6\\ 805 42.0\\ 795 49.1\\ 785 60.6\\ 775 71.0\\ 760 76.2\\ 750 79.4\\ 740 80.0\\ 725 82.0\\ 715 78.8\\ 700 80.6\\ 690 81.3\\ 670 80.6\\ 650 80.0\\ 630 79.4\\ 610 78.8\\ 600 79.0\\};
\addplot[dorg] table[ftx]{w t\\ 4000 89.6\\ 3900 90.2\\ 3800 90.9\\ 3700 91.3\\ 3600 91.0\\ 3500 91.3\\ 3450 90.2\\ 3410 87.7\\ 3380 85.3\\ 3350 84.7\\ 3320 85.1\\ 3290 87.0\\ 3250 90.9\\ 3200 92.8\\ 3100 93.9\\ 3020 93.5\\ 2990 91.6\\ 2970 86.4\\ 2955 76.1\\ 2945 67.1\\ 2935 61.9\\ 2927 58.0\\ 2915 63.2\\ 2900 68.4\\ 2890 69.7\\ 2875 67.1\\ 2860 64.5\\ 2845 74.8\\ 2830 85.1\\ 2800 91.6\\ 2750 93.9\\ 2700 94.8\\ 2600 96.5\\ 2500 98.1\\ 2400 98.7\\ 2350 99.1\\ 2310 98.8\\ 2290 95.4\\ 2275 89.0\\ 2265 82.5\\ 2256 76.7\\ 2250 79.3\\ 2240 87.7\\ 2230 95.4\\ 2210 98.2\\ 2180 99.0\\ 2160 98.7\\ 2140 98.0\\ 2125 96.7\\ 2110 98.2\\ 2080 99.2\\ 2000 99.6\\ 1800 100.0\\ 1770 99.6\\ 1760 98.7\\ 1745 96.8\\ 1735 91.6\\ 1725 83.9\\ 1715 71.0\\ 1705 56.8\\ 1695 41.3\\ 1685 25.9\\ 1678 20.7\\ 1670 23.3\\ 1660 33.5\\ 1650 47.8\\ 1640 63.3\\ 1630 76.2\\ 1620 85.2\\ 1605 90.3\\ 1595 89.3\\ 1580 82.6\\ 1565 72.3\\ 1550 63.3\\ 1535 59.4\\ 1525 63.3\\ 1510 72.3\\ 1500 77.4\\ 1490 72.3\\ 1480 60.6\\ 1470 43.9\\ 1460 33.5\\ 1455 30.3\\ 1445 36.2\\ 1435 51.6\\ 1425 67.1\\ 1415 70.3\\ 1405 69.0\\ 1395 59.4\\ 1385 60.6\\ 1375 58.0\\ 1365 61.3\\ 1355 58.7\\ 1345 61.9\\ 1335 60.0\\ 1320 63.9\\ 1310 61.3\\ 1300 67.1\\ 1290 65.8\\ 1280 63.3\\ 1270 59.4\\ 1260 51.6\\ 1250 47.8\\ 1240 51.6\\ 1230 60.6\\ 1215 65.8\\ 1195 68.4\\ 1180 72.9\\ 1170 71.0\\ 1160 63.3\\ 1150 56.8\\ 1140 54.2\\ 1130 49.1\\ 1120 45.2\\ 1110 42.0\\ 1100 43.9\\ 1090 51.6\\ 1080 56.8\\ 1070 60.6\\ 1060 56.8\\ 1050 59.4\\ 1040 61.9\\ 1030 65.8\\ 1015 69.7\\ 1000 74.8\\ 990 73.5\\ 975 75.9\\ 960 75.5\\ 945 72.9\\ 935 74.8\\ 920 76.8\\ 905 76.1\\ 890 80.0\\ 875 82.0\\ 860 80.6\\ 840 83.9\\ 825 87.8\\ 810 88.4\\ 800 87.8\\ 790 83.9\\ 780 71.0\\ 775 51.6\\ 772 45.2\\ 768 56.8\\ 760 73.5\\ 750 79.4\\ 740 80.0\\ 730 78.8\\ 720 75.5\\ 710 75.5\\ 700 77.4\\ 680 76.1\\ 660 72.3\\ 645 68.4\\ 630 65.1\\ 620 63.3\\ 610 64.5\\ 600 63.9\\};
\node[an] at (axis cs:580,77.5) {3325,75cm-1}; \draw[al] (axis cs:586,79.1)--(axis cs:670,93.6);
\node[an] at (axis cs:1089,48.9) {2931, 17cm-1}; \draw[al] (axis cs:1072,50.7)--(axis cs:1065,63.5);
\node[an] at (axis cs:1575,55.6) {2857,85 cm-1}; \draw[al] (axis cs:1140,64.0)--(axis cs:1540,57.5);
\node[ans] at (axis cs:2078,79.8) {2256,4}; \draw[al] (axis cs:1743,76.2)--(axis cs:2055,78.6);
\node[ans] at (axis cs:2206,30.5) {1733,3}; \draw[al] (axis cs:2279,31.5)--(axis cs:2531,40.1);
\node[ans] at (axis cs:2765,44.0) {1553,3}; \draw[al] (axis cs:2782,45.9)--(axis cs:2933,58.2);
\node[ans] at (axis cs:2833,24.4) {1455,4}; \draw[al] (axis cs:2893,26.0)--(axis cs:3077,30.5);
\node[an] at (axis cs:3453,27.3) {1251,00 cm-1}; \draw[al] (axis cs:3453,29.2)--(axis cs:3496,33.1);
\node[an] at (axis cs:4157,25.6) {1099,48cm-1}; \draw[al] (axis cs:3798,20.2)--(axis cs:4107,24.0);
\node[an] at (axis cs:4569,34.1) {793,70 cm-1}; \draw[al] (axis cs:4408,40.8)--(axis cs:4543,35.6);
\end{axis}
\node[let] at (1183pt,271pt) {D};
\node[lab] at (673pt,106pt) {Finishing chemicals};
\node[leg] at (826pt,37pt) {Hand modifier silicon};
\node[leg] at (826pt,16pt) {Polyurethanne-silicon resin};
\node[leg] at (1093pt,38pt) {Crosslinker};
\draw[lblu, line width=2.8pt] (835pt,35pt)--(881pt,35pt);
\draw[black, line width=2.8pt] (835pt,14pt)--(881pt,14pt);
\draw[lred, line width=2.8pt] (1106pt,37pt)--(1153pt,37pt);
\end{tikzpicture}
\end{document}
